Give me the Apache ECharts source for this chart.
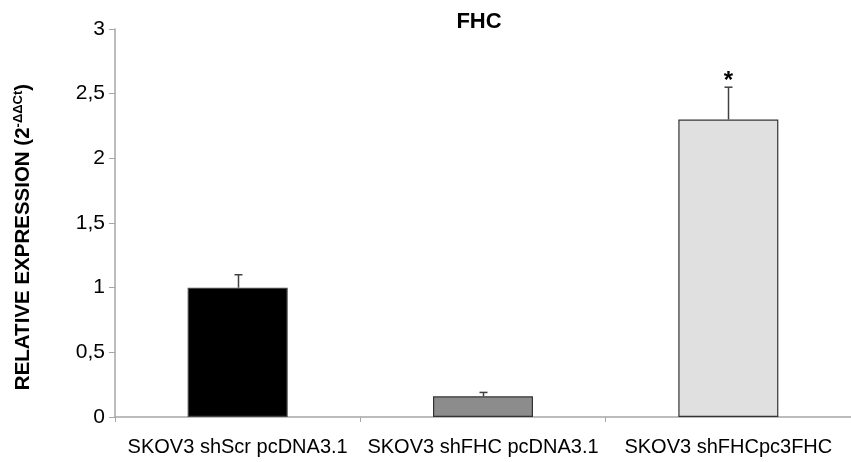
<!DOCTYPE html>
<html>
<head>
<meta charset="utf-8">
<script src="https://cdn.jsdelivr.net/npm/echarts@6/dist/echarts.min.js"></script>
<style>html,body{margin:0;padding:0;background:#fff}#c{width:851px;height:462px}</style>
</head>
<body>
<div id="c"></div>
<script>
var categories = ['SKOV3 shScr pcDNA3.1', 'SKOV3 shFHC pcDNA3.1', 'SKOV3 shFHCpc3FHC'];
var values = [1.0, 0.16, 2.30];
var errors = [0.10, 0.03, 0.25];
var marks = ['', '', '*'];
var barColors = ['#000000', '#8c8c8c', '#e0e0e0'];
var yTicks = ['0', '0,5', '1', '1,5', '2', '2,5', '3'];

var chart = echarts.init(document.getElementById('c'));
var font = 'Liberation Sans';
chart.setOption({
  animation: false,
  title: {
    text: 'FHC', left: 474, top: 6, textAlign: 'center',
    textStyle: {fontFamily: font, fontSize: 22, fontWeight: 'bold', color: '#000'}
  },
  graphic: [{
    type: 'text', x: 23, y: 237, rotation: Math.PI / 2,
    style: {
      text: '{a|RELATIVE EXPRESSION (2}{b|-ΔΔCt}{a|)}',
      align: 'center', verticalAlign: 'middle',
      rich: {
        a: {fontFamily: font, fontSize: 20.5, fontWeight: 'bold', fill: '#000', color: '#000'},
        b: {fontFamily: font, fontSize: 13, fontWeight: 'bold', fill: '#000', color: '#000', padding: [0, 0, 10, 0]}
      }
    }
  }],
  grid: {left: 115, right: -11, top: 29, bottom: 45, containLabel: false},
  xAxis: {
    type: 'category', data: categories,
    axisLine: {lineStyle: {color: '#a6a6a6', width: 1.5}},
    axisTick: {show: true, length: 5, lineStyle: {color: '#a6a6a6'}},
    axisLabel: {fontFamily: font, fontSize: 20, color: '#000', margin: 20, interval: 0}
  },
  yAxis: {
    type: 'value', min: 0, max: 3, interval: 0.5,
    axisLine: {show: true, lineStyle: {color: '#a6a6a6', width: 1.5}},
    axisTick: {show: true, length: 6, lineStyle: {color: '#a6a6a6'}},
    splitLine: {show: false},
    axisLabel: {
      fontFamily: font, fontSize: 21, color: '#000', margin: 10,
      formatter: function (v) { return yTicks[Math.round(v * 2)]; }
    }
  },
  series: [{
    type: 'bar',
    data: values.map(function (v, i) {
      return {value: v, itemStyle: {color: barColors[i], borderColor: i === 0 ? '#444' : '#333', borderWidth: 1.2}};
    }),
    barWidth: 100
  }, {
    type: 'custom',
    data: values.map(function (v, i) { return [i, v, v + errors[i]]; }),
    renderItem: function (params, api) {
      var lo = api.coord([api.value(0), api.value(1)]);
      var hi = api.coord([api.value(0), api.value(2)]);
      var x = Math.round(lo[0]) + 0.5;
      var children = [
        {type: 'line', shape: {x1: x, y1: lo[1], x2: x, y2: hi[1]}, style: {stroke: '#404040', lineWidth: 1.5}},
        {type: 'line', shape: {x1: x - 4, y1: hi[1], x2: x + 4, y2: hi[1]}, style: {stroke: '#404040', lineWidth: 1.5}}
      ];
      var m = marks[params.dataIndex];
      if (m) {
        children.push({type: 'text', style: {text: m, x: x, y: hi[1] + 6, align: 'center', verticalAlign: 'bottom',
          fontFamily: font, fontSize: 24, fontWeight: 'bold', fill: '#000'}});
      }
      return {type: 'group', children: children};
    },
    z: 5
  }]
});
</script>
</body>
</html>
